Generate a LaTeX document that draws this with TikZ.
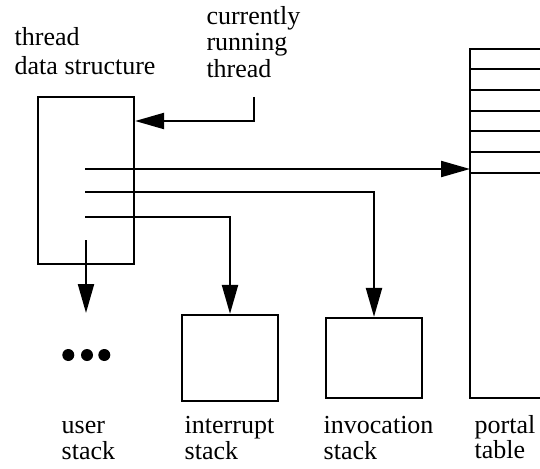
\documentclass[tikz,border=0pt]{standalone}
\usepackage{fontspec}
\setmainfont{Liberation Serif}
\usetikzlibrary{arrows.meta}
\tikzset{
  ln/.style={line width=2.2pt},
  arr/.style={ln, -{Triangle[length=29pt,width=16pt]}},
  box/.style={draw, ln, rectangle, inner sep=0pt},
  lbl/.style={anchor=base west, inner sep=0pt},
}
\newcommand{\lbltext}[3]{\fontsize{26}{#1}\selectfont\vtop{\baselineskip=#1pt\lineskiplimit=-100pt\hbox{#2}\hbox{#3}}}
\begin{document}
\begin{tikzpicture}[x=1pt,y=1pt]
\useasboundingbox (0,0) rectangle (540,-468);
% boxes
\node[box, minimum width=96pt, minimum height=167pt] (tb) at (86,-180.5) {};
\node[box, minimum width=96pt, minimum height=86pt] (intr) at (230,-358) {};
\node[box, minimum width=96pt, minimum height=80pt] (inv) at (374,-358) {};
% portal table
\coordinate (ptl) at (470,-49);
\coordinate (pbl) at (470,-398);
\draw[ln] (560,-49) -- (ptl) -- (pbl) -- (560,-398);
\foreach \yy in {69,90,111,131,152,173}
  \draw[ln] (470,-\yy) -- (560,-\yy);
% labels
\node[lbl] (l1) at (14.5,-45.7) {\lbltext{29.3}{thread}{data structure}};
\node[lbl] (l2) at (206.3,-24.5) {\fontsize{26}{26.5}\selectfont\vtop{\baselineskip=26.5pt\lineskiplimit=-100pt\hbox{currently}\hbox{running}\hbox{thread}}};
\node[lbl] (l3) at (61.5,-433) {\lbltext{26.3}{user}{stack}};
\node[lbl] (l4) at (184.5,-433.5) {\lbltext{26}{interrupt}{stack}};
\node[lbl] (l5) at (323.5,-433.3) {\lbltext{26}{invocation}{stack}};
\node[lbl] (l6) at (474.5,-433) {\lbltext{25.5}{portal}{table}};
% connectors
\coordinate (crt) at (254,-97);
\coordinate (crtc) at (254,-121);
\draw[arr] (crt) -- (crtc) -- (tb.east |- crtc);
\coordinate (s1) at (85,-169);
\draw[arr] (s1) -- (ptl |- s1);
\coordinate (s2) at (85,-192);
\draw[arr] (s2) -| (inv.north);
\coordinate (s3) at (85,-216.7);
\draw[arr] (s3) -| (intr.north);
\coordinate (s4) at (86,-240);
\coordinate (ue) at (86,-313);
\draw[arr] (s4) -- (ue);
% dots
\foreach \xx in {68.3,87,104.3}
  \fill (\xx,-355) circle (6pt);
\end{tikzpicture}
\end{document}
